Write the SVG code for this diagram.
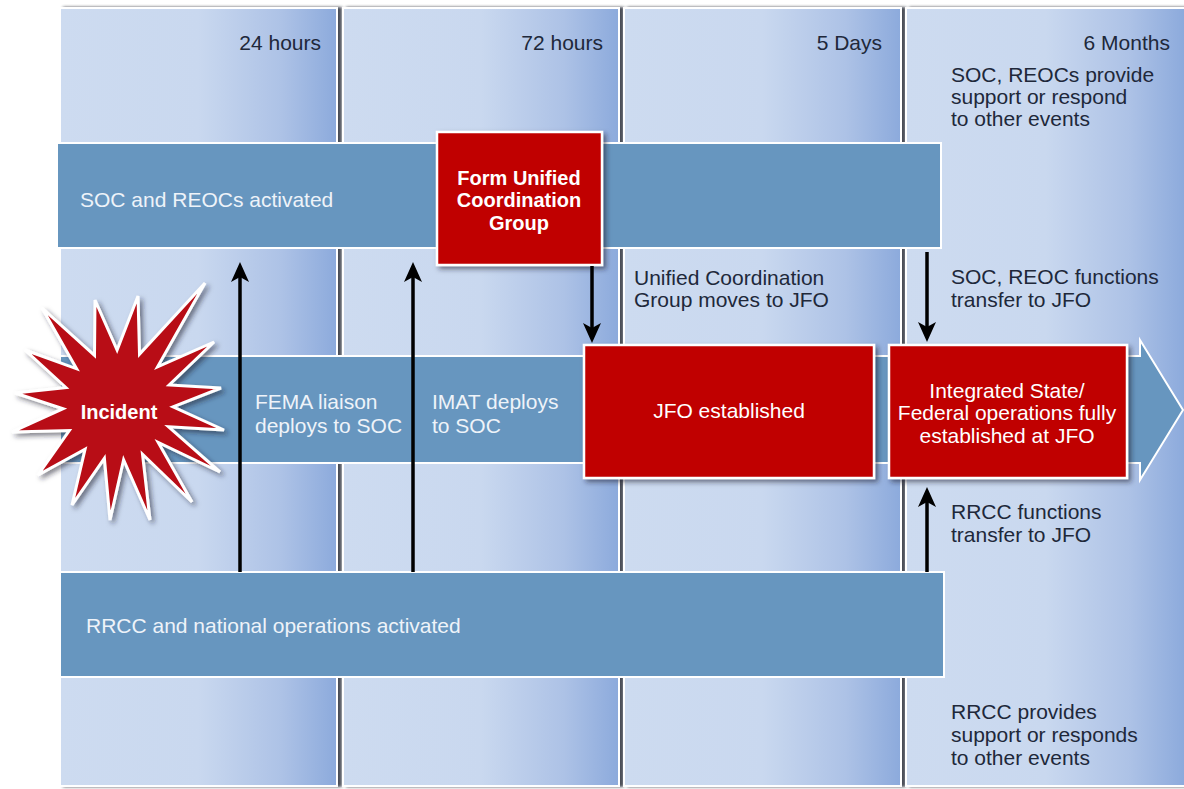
<svg xmlns="http://www.w3.org/2000/svg" width="1184" height="789" viewBox="0 0 1184 789">
  <defs>
    <linearGradient id="colGrad" x1="0" y1="0" x2="1" y2="0">
      <stop offset="0" stop-color="#cddbf0"/>
      <stop offset="0.5" stop-color="#c9d8ef"/>
      <stop offset="0.8" stop-color="#adc2e6"/>
      <stop offset="1" stop-color="#8caadc"/>
    </linearGradient>
    <filter id="colShadow" x="-5%" y="-5%" width="115%" height="110%">
      <feDropShadow dx="4" dy="0" stdDeviation="1.6" flood-color="#2a2f3a" flood-opacity="0.85"/>
    </filter>
    <filter id="boxShadow" x="-10%" y="-10%" width="125%" height="130%">
      <feDropShadow dx="3" dy="3" stdDeviation="2.5" flood-color="#1a2030" flood-opacity="0.55"/>
    </filter>
    <marker id="head" markerUnits="userSpaceOnUse" viewBox="0 0 20 18" markerWidth="20" markerHeight="18" refX="5" refY="9" orient="auto">
      <path d="M0,0 L20,9 L0,18 L5,9 z" fill="#000"/>
    </marker>
    <style>
      .col { fill: url(#colGrad); stroke: #ffffff; stroke-width: 2; filter: url(#colShadow); }
      .bar { fill: #6796bf; stroke: #ffffff; stroke-width: 2; }
      .red { fill: #c00000; stroke: #ffffff; stroke-width: 2.5; filter: url(#boxShadow); }
      .t { font-family: "Liberation Sans", Arial, sans-serif; font-size: 21px; }
      .dark { fill: #20283a; }
      .light { fill: #eef3f9; }
      .white { fill: #ffffff; }
      .bold { font-weight: bold; font-size: 20px; }
      .arrow { stroke: #000; stroke-width: 3.5; fill: none; marker-end: url(#head); }
    </style>
  </defs>

  <rect x="0" y="0" width="1184" height="789" fill="#ffffff"/>

  <g id="columns">
    <g id="col-24h">
      <rect class="col" x="60" y="8" width="277" height="778"/>
      <text class="t dark" x="321" y="50" text-anchor="end">24 hours</text>
    </g>
    <g id="col-72h">
      <rect class="col" x="343" y="8" width="276" height="778"/>
      <text class="t dark" x="603" y="50" text-anchor="end">72 hours</text>
    </g>
    <g id="col-5d">
      <rect class="col" x="624" y="8" width="277" height="778"/>
      <text class="t dark" x="882" y="50" text-anchor="end">5 Days</text>
    </g>
    <g id="col-6m">
      <rect class="col" x="906" y="8" width="279" height="778"/>
      <text class="t dark" x="1170" y="50" text-anchor="end">6 Months</text>
    </g>
  </g>

  <g id="soc-support">
    <text class="t dark" x="951" y="82">SOC, REOCs provide</text>
    <text class="t dark" x="951" y="104">support or respond</text>
    <text class="t dark" x="951" y="126">to other events</text>
  </g>

  <g id="soc-bar">
    <rect class="bar" x="57" y="143" width="884" height="105"/>
    <text class="t light" x="80" y="207">SOC and REOCs activated</text>
  </g>

  <g id="middle-bar">
    <path class="bar" d="M60,356 L1140,356 L1140,340 L1183,410 L1140,480 L1140,463 L60,463 Z"/>
  </g>

  <g id="rrcc-bar">
    <rect class="bar" x="60" y="572" width="884" height="105"/>
    <text class="t light" x="86" y="633">RRCC and national operations activated</text>
  </g>

  <g id="fema-liaison">
    <text class="t light" x="255" y="409">FEMA liaison</text>
    <text class="t light" x="255" y="433">deploys to SOC</text>
  </g>

  <g id="imat">
    <text class="t light" x="432" y="409">IMAT deploys</text>
    <text class="t light" x="432" y="433">to SOC</text>
  </g>

  <g id="ucg-moves">
    <text class="t dark" x="634" y="285">Unified Coordination</text>
    <text class="t dark" x="634" y="307">Group moves to JFO</text>
  </g>

  <g id="soc-transfer">
    <text class="t dark" x="951" y="284">SOC, REOC functions</text>
    <text class="t dark" x="951" y="307">transfer to JFO</text>
  </g>

  <g id="rrcc-transfer">
    <text class="t dark" x="951" y="519">RRCC functions</text>
    <text class="t dark" x="951" y="542">transfer to JFO</text>
  </g>

  <g id="rrcc-support">
    <text class="t dark" x="951" y="719">RRCC provides</text>
    <text class="t dark" x="951" y="742">support or responds</text>
    <text class="t dark" x="951" y="765">to other events</text>
  </g>

  <g id="form-ucg">
    <rect class="red" x="437" y="132" width="165" height="133"/>
    <text class="t white bold" x="519" y="185" text-anchor="middle">Form Unified</text>
    <text class="t white bold" x="519" y="207" text-anchor="middle">Coordination</text>
    <text class="t white bold" x="519" y="230" text-anchor="middle">Group</text>
  </g>

  <g id="jfo-established">
    <rect class="red" x="584" y="345" width="290" height="133"/>
    <text class="t white" x="729" y="418" text-anchor="middle">JFO established</text>
  </g>

  <g id="integrated-ops">
    <rect class="red" x="889" y="345" width="238" height="133"/>
    <text class="t white" x="1007" y="398" text-anchor="middle">Integrated State/</text>
    <text class="t white" x="1007" y="420" text-anchor="middle">Federal operations fully</text>
    <text class="t white" x="1007" y="443" text-anchor="middle">established at JFO</text>
  </g>

  <g id="connectors">
    <line class="arrow" x1="240" y1="572" x2="240" y2="277"/>
    <line class="arrow" x1="413" y1="572" x2="413" y2="277"/>
    <line class="arrow" x1="592" y1="266" x2="592" y2="328"/>
    <line class="arrow" x1="927" y1="252" x2="927" y2="327"/>
    <line class="arrow" x1="927" y1="572" x2="927" y2="502"/>
  </g>

  <g id="incident">
    <polygon fill="#b80d16" stroke="#ffffff" stroke-width="3" stroke-linejoin="miter" filter="url(#boxShadow)"
      points="205,283 157.6,366.8 214,342 169.2,385 221,388 173,406.9 224,430 168.5,426.8 220,472 158.2,442.5 192,502 142.5,454.2 150,520 123.6,459.7 110,520 104.4,458.3 72,505 85.1,449.1 38,475 69.3,430.6 12,432 63.1,408.7 15,393 65.9,387.5 25,350 76.6,368.8 42,308 94.5,355.3 95,300 117.1,350 138,296 139.5,354.3"/>
    <text class="t white bold" x="119" y="419" text-anchor="middle">Incident</text>
  </g>
</svg>
